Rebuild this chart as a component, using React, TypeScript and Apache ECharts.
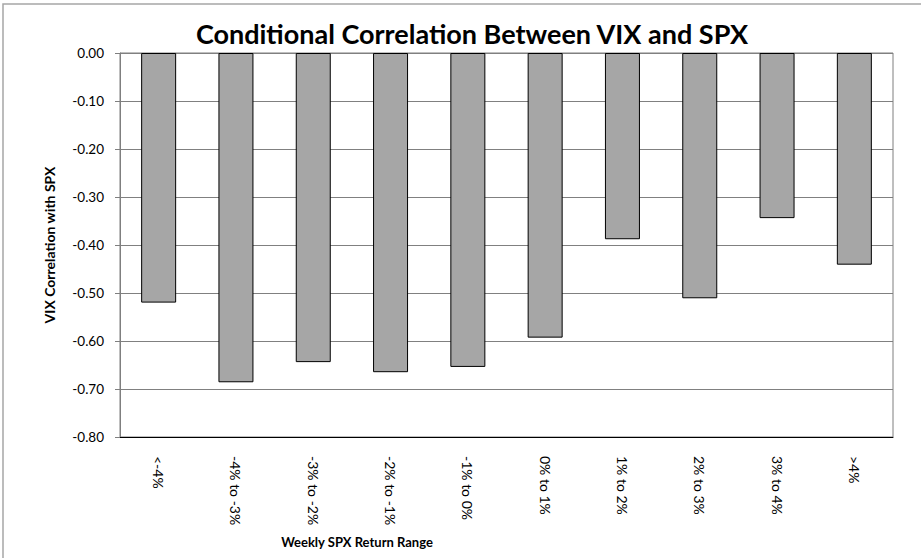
import React, { useEffect, useRef } from "react";
import * as echarts from "echarts";

const categories = [
  "<-4%",
  "-4% to -3%",
  "-3% to -2%",
  "-2% to -1%",
  "-1% to 0%",
  "0% to 1%",
  "1% to 2%",
  "2% to 3%",
  "3% to 4%",
  ">4%",
];
const correlations = [-0.52, -0.686, -0.644, -0.665, -0.654, -0.593, -0.388, -0.511, -0.344, -0.441];
const titleText = "Conditional Correlation Between VIX and SPX";
const yAxisTitle = "VIX Correlation with SPX";
const xAxisTitle = "Weekly SPX Return Range";

const FONT = "Lato, 'Open Sans', sans-serif";

export default function App() {
  const ref = useRef<HTMLDivElement>(null);
  useEffect(() => {
    if (!ref.current) return;
    const chart = echarts.init(ref.current, null, { renderer: "svg" });
    chart.setOption({
      animation: false,
      backgroundColor: "#ffffff",
      textStyle: { fontFamily: FONT },
      grid: {
        left: 120,
        right: 28,
        top: 53,
        bottom: 121,
        show: true,
        borderColor: "#7f7f7f",
        borderWidth: 1,
        containLabel: false,
      },
      xAxis: {
        type: "category",
        data: categories,
        position: "bottom",
        axisLine: { onZero: false, lineStyle: { color: "#000000", width: 1 } },
        axisTick: { show: false },
        axisLabel: {
          rotate: -90,
          margin: 19,
          fontSize: 14,
          color: "#000000",
          fontFamily: FONT,
          interval: 0,
        },
        splitLine: { show: false },
      },
      yAxis: {
        type: "value",
        min: -0.8,
        max: 0,
        interval: 0.1,
        axisLine: { show: true, lineStyle: { color: "#7f7f7f", width: 1 } },
        axisTick: { show: true, length: 5, inside: false, lineStyle: { color: "#7f7f7f" } },
        axisLabel: {
          margin: 16,
          fontSize: 13.5,
          color: "#000000",
          fontFamily: FONT,
          formatter: (v: number) => v.toFixed(2),
        },
        splitLine: { show: true, lineStyle: { color: "#808080", width: 1 } },
      },
      series: [
        {
          type: "bar",
          data: correlations,
          barWidth: 35,
          itemStyle: { color: "#a6a6a6", borderColor: "#000000", borderWidth: 1 },
        },
      ],
      graphic: [
        {
          type: "polyline",
          shape: { points: [[3, 558], [3, 4], [921, 4]] },
          style: { stroke: "#a6a6a6", lineWidth: 1.5, fill: null },
          silent: true,
        },
        {
          type: "text",
          x: 472,
          y: 33,
          style: {
            text: titleText,
            font: `bold 27px ${FONT}`,
            fill: "#000000",
            align: "center",
            verticalAlign: "middle",
          },
        },
        {
          type: "text",
          x: 49,
          y: 245,
          rotation: Math.PI / 2,
          style: {
            text: yAxisTitle,
            font: `bold 14px ${FONT}`,
            fill: "#000000",
            align: "center",
            verticalAlign: "middle",
          },
        },
        {
          type: "text",
          x: 357,
          y: 542,
          style: {
            text: xAxisTitle,
            font: `bold 13px ${FONT}`,
            fill: "#000000",
            align: "center",
            verticalAlign: "middle",
          },
        },
      ],
    });
    return () => chart.dispose();
  }, []);
  return (
    <div
      ref={ref}
      style={{ position: "fixed", left: 0, top: 0, width: 921, height: 558 }}
    />
  );
}
